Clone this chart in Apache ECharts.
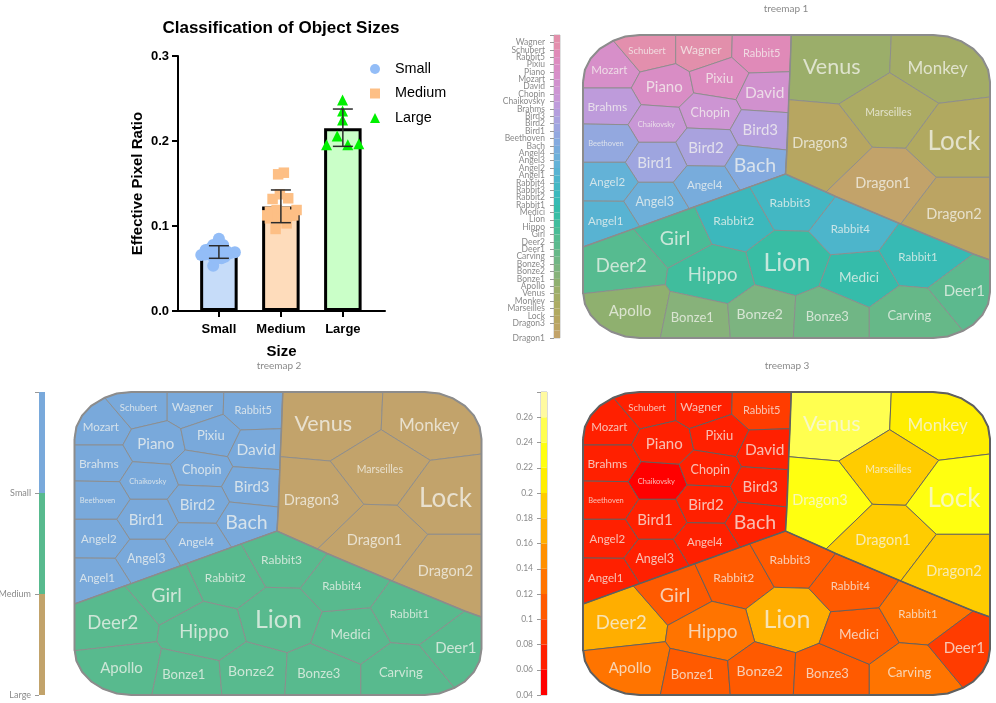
<!DOCTYPE html>
<html>
<head>
<meta charset="utf-8">
<style>html,body{margin:0;padding:0;background:#fff}#c{width:996px;height:703px}</style>
<script src="https://cdn.jsdelivr.net/npm/echarts@6/dist/echarts.min.js"></script>
</head>
<body>
<div id="c"></div>
<script>
// ---------- bar chart data ----------
const sizeCategories = ['Small', 'Medium', 'Large'];
const barMeans = [0.069, 0.123, 0.215];
const errLow = [0.0620, 0.1039, 0.1937];
const errHigh = [0.0768, 0.1424, 0.2376];
const smallPoints = [[1,.085],[.908,.0776],[1.069,.0776],[.785,.0718],[.715,.0659],[.839,.0698],[.946,.0678],[1.097,.0639],[1.258,.069],[1.177,.0678],[.908,.0533],[1.043,.062],[.86,.0735],[.97,.073],[1.03,.0715],[.9,.0645],[1.12,.0705],[.78,.0665],[.96,.0615]];
const mediumPoints = [[2.048,.1627],[1.956,.1608],[1.866,.1318],[2.118,.1326],[1.984,.1373],[1.823,.1168],[1.931,.1188],[2.065,.1168],[2.253,.1188],[1.823,.109],[1.984,.109],[2.092,.1031],[1.915,.0965],[1.9,.113],[2.02,.113],[2.15,.112],[2.2,.1125],[1.78,.1125]];
const largePoints = [[2.995,.2482],[2.995,.2353],[2.995,.2247],[2.909,.2059],[2.737,.1957],[3.08,.1957],[3.258,.1968]];

// ---------- treemap data (map units, like a small region map) ----------
const legendNames = ['Wagner','Schubert','Rabbit5','Pixiu','Piano','Mozart','David','Chopin','Chaikovsky','Brahms','Bird3','Bird2','Bird1','Beethoven','Bach','Angel4','Angel3','Angel2','Angel1','Rabbit4','Rabbit3','Rabbit2','Rabbit1','Medici','Lion','Hippo','Girl','Deer2','Deer1','Carving','Bonze3','Bonze2','Bonze1','Apollo','Venus','Monkey','Marseilles','Lock','Dragon3','Dragon2','Dragon1'];
const nameColors = ['#e28fab','#e38fad','#e08ab8','#dd8cc0','#d98dc5','#d78fc9','#d191ce','#cd95d3','#c897d6','#be9bdb','#b49edd','#a9a2de','#9ea5df','#93a8df','#84aadf','#78acdc','#6dafd9','#63b2d7','#58b3d2','#4db5cb','#43b7c3','#3cb8bc','#37bab4','#35bcaa','#38bda4','#40bd9d','#49bc96','#56bb90','#5cb98e','#66b888','#70b685','#7cb480','#87b27a','#8fb06f','#9bae6a','#a3ac66','#acab63','#b1a960','#b7a661','#bba463','#c2a36a'];
const groupNames = ['Small','Medium','Large'];
const groupColors = ['#79a9db','#58ba8e','#c2a36b'];
const heatTicks = [0.04,0.06,0.08,0.10,0.12,0.14,0.16,0.18,0.20,0.22,0.24,0.26,0.28];
const heatColors = ['#ff0000','#ff2000','#ff3c00','#ff5a00','#ff7400','#ff9000','#ffae00','#ffcc00','#ffee00','#ffff10','#ffff50','#fffaa0'];
const cellValues = {Wagner:.07,Schubert:.07,Rabbit5:.09,Pixiu:.07,Piano:.07,Mozart:.07,David:.07,Chopin:.07,Chaikovsky:.05,Brahms:.07,Bird3:.07,Bird2:.07,Bird1:.07,Beethoven:.07,Bach:.07,Angel4:.07,Angel3:.07,Angel2:.07,Angel1:.07,
  Rabbit4:.11,Rabbit3:.11,Rabbit2:.11,Rabbit1:.13,Medici:.11,Lion:.16,Hippo:.13,Girl:.11,Deer2:.16,Deer1:.09,Carving:.13,Bonze3:.11,Bonze2:.11,Bonze1:.11,Apollo:.13,
  Venus:.248,Monkey:.206,Marseilles:.196,Lock:.225,Dragon3:.235,Dragon2:.197,Dragon1:.196};
const cellGroups = {Small:legendNames.slice(0,19),Medium:legendNames.slice(19,34),Large:legendNames.slice(34)};

const vertices = {
 O:[0,53],a1:[0,47],a2:[1.9,34.8],a3:[7.6,23.5],a4:[16.7,13.8],A:[30.3,5.7],a5:[42.2,1.6],a6:[57,0],B:[92.7,0],C:[92.7,28.7],D:[57,37],
 E:[149.3,0],F:[148.7,22.3],G:[106.3,36.7],H:[166,38],I:[207,36.7],J:[110.7,58],K:[153,64.7],L:[96,72.3],M:[58,69.7],N:[48.3,53],
 P:[45,89.7],Q:[0,89],R:[104,93],S:[92.7,107.3],T:[55.7,107.3],U:[147,94.7],V:[158.3,74.7],W:[205.4,77.7],X:[155,110],Y:[204,115],
 Z:[104,130.7],AA:[141.7,131.3],apex:[202.5,139],top:[208.3,0],bb:[42.3,127.3],ll:[0,127.3],cc:[90.3,147.3],dd:[55.3,147.3],ee:[40.7,166.3],mm:[0,166],
 d0:[0,212],d1:[50.3,193.9],d2:[56.7,191.6],d3:[106.3,173.7],d4:[111.7,171.7],d5:[157,155.4],d6:[166.7,151.9],
 d7:[243,157],d8:[252.7,161.5],d9:[316,188.3],d10:[317.7,189],d11:[390.3,219],d12:[407,225],
 gd:[84.7,233.3],hd:[82.3,249.7],dl:[0,258.7],gr:[129,209.3],rr:[191.3,195.3],rl:[162.7,217],r34:[225.7,196.3],lm:[247.7,219.7],lmb:[236,251.3],lb:[212.7,260.7],hl:[171.7,249.7],hb:[144.7,268.7],hab:[87,256.3],
 b1:[77.3,303],b2:[147.3,303],b3:[210.3,303],b4:[286.3,303],mbc:[286.3,272.3],r4m:[296,215.7],mrc:[316.3,250.7],rcd:[344.7,253],
 c1:[57,303],c2:[42.2,301.4],c3:[28.5,296.8],c4:[16.7,289.5],c5:[7.6,280],c6:[1.9,268.9],c7:[0,257],
 e1:[350,303],e2:[364.8,301.4],e3:[380,295.8],e4:[390.3,289.5],e5:[399.4,280],e6:[405.1,268.9],e7:[407,257],
 t1:[308.3,0],vmm:[306.7,37.7],vdm:[255.7,69],vd:[205.7,64.7],f1:[350,0],f2:[364.8,1.6],f3:[378.5,6.3],f4:[390.3,13.8],f5:[399.4,23.5],f6:[405.1,34.8],f7:[407,47],f8:[407,62],
 mlm:[355.7,68.3],ml:[322.7,113.3],md:[289.3,112.3],dr:[353.3,142.3],rt:[407,142.3]
};
const cellOutlines = {
 Mozart:'O a1 a2 a3 a4 A D N',Schubert:'A a5 a6 B C D',Wagner:'B E F G C',Rabbit5:'E top I H F',Piano:'D C G J L M N',Pixiu:'G F H K J',David:'H I W V K',
 Brahms:'O N M P Q',Chaikovsky:'M L R S T P',Chopin:'J K V U R L',Bird3:'V W Y X U',Beethoven:'Q P T bb ll',Bird2:'R U X AA Z S',Bird1:'T S Z cc dd bb',Bach:'X Y apex d5 AA',
 Angel2:'ll bb dd ee mm',Angel3:'dd cc d3 d2 ee',Angel4:'Z AA d5 d3 cc',Angel1:'mm ee d2 d0',
 Deer2:'d0 d1 gd hd dl',Girl:'d1 d4 gr gd',Rabbit2:'d4 d6 rr rl gr',Rabbit3:'d6 apex d8 r34 rr',Lion:'rr r34 lm lmb lb hl rl',Hippo:'gd gr rl hl hb hab hd',
 Apollo:'dl hd hab b1 c1 c2 c3 c4 c5 c6 c7',Bonze1:'hab hb b2 b1',Bonze2:'hb hl lb b3 b2',Bonze3:'lb lmb mbc b4 b3',Medici:'lm r4m mrc mbc lmb',Rabbit4:'r34 d8 d9 r4m lm',Rabbit1:'d9 d10 d11 rcd mrc r4m',
 Carving:'mbc mrc rcd e3 e2 e1 b4',Deer1:'d11 d12 e7 e6 e5 e4 e3 rcd',
 Venus:'top t1 vmm vdm vd',Monkey:'t1 f1 f2 f3 f4 f5 f6 f7 f8 mlm vmm',Marseilles:'vmm mlm ml md vdm',Dragon3:'vd vdm md d7 apex',Dragon1:'md ml dr d10 d9 d8 d7',Lock:'mlm f8 rt dr ml',Dragon2:'dr rt d12 d11 d10'
};
const outerLine = 'a1 a2 a3 a4 A a5 a6 B E top t1 f1 f2 f3 f4 f5 f6 f7 f8 rt d12 e7 e6 e5 e4 e3 e2 e1 b4 b3 b2 b1 c1 c2 c3 c4 c5 c6 c7 dl d0 mm ll Q O a1';
const groupLines = ['d0 d1 d2 d3 d4 d5 d6 apex d7 d8 d9 d10 d11 d12','top I vd W Y apex'];
const labelSpots = {Schubert:[64,15.7],Wagner:[118,15.3],Rabbit5:[178.7,18],Mozart:[26.3,35],Piano:[81.3,52],Pixiu:[136.3,44.3],David:[181.7,57.7],Brahms:[24.3,72],Chaikovsky:[73.3,89.3],Chopin:[127.3,77.7],Bird3:[177.3,94.7],Beethoven:[23,109],Bird2:[123,112.7],Bird1:[72,128],Bach:[172,130.7],Angel2:[24.3,147.3],Angel3:[71.7,167],Angel4:[121.7,150],Angel1:[22.7,186],Girl:[92,203.3],Rabbit2:[150.7,186],Deer2:[38.3,230.7],Hippo:[129.7,240.3],Apollo:[47,275.7],Bonze1:[109.3,283.3],Bonze2:[176.7,279],Lion:[204,228],Rabbit3:[207,168],Rabbit4:[267.3,194],Rabbit1:[335,222.7],Medici:[276,242.7],Bonze3:[244.3,281.7],Carving:[326.3,281.3],Deer1:[381.3,256.3],Dragon2:[371,179.3],Dragon1:[300,148.7],Dragon3:[237,108.3],Lock:[371,106.3],Marseilles:[305.3,77.3],Venus:[248.7,31.7],Monkey:[354.7,33.3]};
const labelSizes = {Schubert:9.5,Wagner:12,Rabbit5:11,Mozart:11.5,Piano:15,Pixiu:13,David:15.5,Brahms:12,Chaikovsky:7.5,Chopin:12.5,Bird3:15,Beethoven:7.5,Bird2:15,Bird1:15,Bach:19.5,Angel2:11.5,Angel3:12.5,Angel4:11.5,Angel1:11.5,Girl:19.5,Rabbit2:12,Deer2:18.5,Hippo:18.5,Apollo:15,Bonze1:13,Bonze2:14,Lion:25,Rabbit3:12,Rabbit4:11.5,Rabbit1:11.5,Medici:13.5,Bonze3:13,Carving:13,Deer1:15,Dragon2:14.5,Dragon1:14.5,Dragon3:14.5,Lock:26,Marseilles:10.5,Venus:21.5,Monkey:17};

// ---------- colour lookups ----------
function heatColor(v){ let i=0; while(i<heatColors.length-1 && v>=heatTicks[i+1]) i++; return heatColors[i]; }
function groupOf(n){ return groupNames.find(g=>cellGroups[g].includes(n)); }
const colorModes = [
  n=>nameColors[legendNames.indexOf(n)],
  n=>groupColors[groupNames.indexOf(groupOf(n))],
  n=>heatColor(cellValues[n])
];

const MAP_FONT = 'Lato';
const ARIAL = '"Liberation Sans"';
const mapBoxes = [[583,35],[74.5,392],[583,392]];
const strokes = ['#8c8c8c','#8c8c8c','#5f5f5f'];
const cellNames = Object.keys(cellOutlines);

const grids=[], xAxes=[], yAxes=[], series=[];
// grid 0: bar chart
grids.push({left:178,top:56,width:207,height:255,outerBoundsMode:'none'});
xAxes.push({gridIndex:0,type:'value',min:0.34,max:3.68,splitLine:{show:false},
  name:'Size',nameLocation:'middle',nameGap:33,nameTextStyle:{fontFamily:ARIAL,fontWeight:'bold',fontSize:15,color:'#000'},
  axisLine:{show:true,lineStyle:{color:'#000',width:2}},
  axisTick:{show:true,length:6,lineStyle:{color:'#000',width:2},customValues:[1,2,3]},
  axisLabel:{customValues:[1,2,3],formatter:v=>sizeCategories[Math.round(v)-1]||'',fontFamily:ARIAL,fontWeight:'bold',fontSize:13,color:'#000',margin:12}});
yAxes.push({gridIndex:0,type:'value',min:0,max:0.3,interval:0.1,splitLine:{show:false},
  name:'Effective Pixel Ratio',nameLocation:'middle',nameGap:33,nameRotate:90,nameTextStyle:{fontFamily:ARIAL,fontWeight:'bold',fontSize:15,color:'#000'},
  axisLine:{show:true,onZero:false,lineStyle:{color:'#000',width:2}},
  axisTick:{show:true,length:6,lineStyle:{color:'#000',width:2}},
  axisLabel:{formatter:v=>v.toFixed(1),fontFamily:ARIAL,fontWeight:'bold',fontSize:13,color:'#000',margin:9}});
const barFills=['#c6dcf9','#fedcbb','#caffc8'];
series.push({type:'bar',xAxisIndex:0,yAxisIndex:0,barWidth:37.5,z:2,animation:false,silent:true,
  data:barMeans.map((v,i)=>({value:[i+1,v],itemStyle:{color:barFills[i],borderColor:'#000',borderWidth:3}}))});
[['Small',smallPoints,'circle',12,'#93bdf7'],['Medium',mediumPoints,'rect',10.5,'#fdbf85'],['Large',largePoints,'triangle',11,'#00f000']].forEach(s=>{
  series.push({name:s[0],type:'scatter',xAxisIndex:0,yAxisIndex:0,data:s[1],symbol:s[2],symbolSize:s[3],z:3,animation:false,silent:true,
    itemStyle:{color:s[4],opacity:1}});
});
series.push({type:'custom',xAxisIndex:0,yAxisIndex:0,z:4,animation:false,silent:true,
  data:barMeans.map((v,i)=>[i+1,errLow[i],errHigh[i]]),
  encode:{x:0,y:[1,2]},
  renderItem:(p,api)=>{
    const lo=api.coord([api.value(0),api.value(1)]), hi=api.coord([api.value(0),api.value(2)]);
    const st={stroke:'#2b2b2b',lineWidth:1.5}, c=10;
    return {type:'group',children:[
      {type:'line',shape:{x1:lo[0],y1:lo[1],x2:hi[0],y2:hi[1]},style:st},
      {type:'line',shape:{x1:lo[0]-c,y1:lo[1],x2:lo[0]+c,y2:lo[1]},style:st},
      {type:'line',shape:{x1:hi[0]-c,y1:hi[1],x2:hi[0]+c,y2:hi[1]},style:st}]};
  }});

// grids 1-3: the three treemaps on hidden value axes
mapBoxes.forEach((b,k)=>{
  const gi=grids.length;
  grids.push({left:b[0],top:b[1],width:407,height:303,outerBoundsMode:'none'});
  xAxes.push({gridIndex:gi,type:'value',min:0,max:407,show:false});
  yAxes.push({gridIndex:gi,type:'value',min:0,max:303,inverse:true,show:false});
  const xy=names=>names.split(' ').map(id=>vertices[id]);
  series.push({type:'custom',xAxisIndex:gi,yAxisIndex:gi,animation:false,silent:true,clip:false,z:2,
    data:cellNames.map((n,i)=>[i]),
    renderItem:(p,api)=>{
      const n=cellNames[p.dataIndex];
      const pts=xy(cellOutlines[n]).map(v=>api.coord(v));
      const c=api.coord(labelSpots[n]);
      return {type:'group',children:[
        {type:'polygon',shape:{points:pts},style:{fill:colorModes[k](n),stroke:strokes[k],lineWidth:0.9}},
        {type:'text',z2:5,style:{x:c[0],y:c[1],text:n,align:'center',verticalAlign:'middle',fill:'rgba(245,245,240,0.74)',
          font:labelSizes[n]+'px '+MAP_FONT}}]};
    }});
  series.push({type:'custom',xAxisIndex:gi,yAxisIndex:gi,animation:false,silent:true,clip:false,z:3,
    data:[[0],[1],[2]],
    renderItem:(p,api)=>{
      const line=p.dataIndex===0?outerLine:groupLines[p.dataIndex-1];
      return {type:'polyline',shape:{points:xy(line).map(v=>api.coord(v))},
        style:{fill:'none',stroke:strokes[k],lineWidth:p.dataIndex===0?2:1.5}};
    }});
});

// grids 4-6: colour legends with real axes
function bandSeries(gi,bands){
  return {type:'custom',xAxisIndex:gi,yAxisIndex:gi,animation:false,silent:true,z:2,
    data:bands.map((b,i)=>[i]),
    renderItem:(p,api)=>{
      const b=bands[p.dataIndex];
      const a=api.coord([0,b[0]]), c=api.coord([1,b[1]]);
      return {type:'rect',shape:{x:a[0],y:Math.min(a[1],c[1]),width:c[0]-a[0],height:Math.abs(c[1]-a[1])},style:{fill:b[2]}};
    }};
}
function legendAxis(gi,opt,formatter){
  xAxes.push({gridIndex:gi,type:'value',min:0,max:1,show:false});
  yAxes.push(Object.assign({gridIndex:gi,type:'value',splitLine:{show:false},
    axisLine:{show:false},
    axisTick:{show:true,length:4,lineStyle:{color:'#999',width:1}},
    axisLabel:{formatter,fontFamily:MAP_FONT,fontSize:opt.fs,color:'#8a8a8a',margin:opt.m,hideOverlap:false,showMinLabel:true,showMaxLabel:true}},opt.axis));
}
let gi=grids.length;
grids.push({left:554,top:35,width:6,height:303,show:true,borderColor:'#c4c4c4',borderWidth:1,backgroundColor:'transparent',outerBoundsMode:'none'});
legendAxis(gi,{fs:8.5,m:9,axis:{min:0,max:41,interval:1,inverse:true}},v=>legendNames[Math.round(v)-1]||'');
series.push(bandSeries(gi,legendNames.map((n,i)=>[i,i+1,nameColors[i]])));
gi=grids.length;
grids.push({left:39,top:392,width:6,height:303,outerBoundsMode:'none'});
legendAxis(gi,{fs:9,m:8,axis:{min:0,max:3,interval:1,inverse:true}},v=>groupNames[Math.round(v)-1]||'');
series.push(bandSeries(gi,groupNames.map((n,i)=>[i,i+1,groupColors[i]])));
gi=grids.length;
grids.push({left:541,top:392,width:6,height:303,show:true,borderColor:'#b8b8b8',borderWidth:1,backgroundColor:'transparent',outerBoundsMode:'none'});
legendAxis(gi,{fs:8.5,m:8,axis:{min:0.04,max:0.28,interval:0.02}},v=>v>0.27?'':String(+v.toFixed(2)));
series.push(bandSeries(gi,heatColors.map((c,i)=>[heatTicks[i],heatTicks[i+1],c])));

const chart=echarts.init(document.getElementById('c'),null,{renderer:'canvas'});
const tm=(text,x,y)=>({text,left:x,top:y,textAlign:'center',textStyle:{fontFamily:MAP_FONT,fontSize:10,fontWeight:'normal',color:'#8a8a8a'},padding:0});
chart.setOption({
  backgroundColor:'#fff',animation:false,
  title:[
    {text:'Classification of Object Sizes',left:281,top:20,textAlign:'center',padding:0,textStyle:{fontFamily:ARIAL,fontWeight:'bold',fontSize:17,color:'#000'}},
    tm('treemap 1',786,4),tm('treemap 2',279,361),tm('treemap 3',787,361)
  ],
  legend:{data:['Small','Medium','Large'],orient:'vertical',left:370,top:62,itemWidth:10,itemHeight:10,itemGap:10.5,padding:0,
    textStyle:{fontFamily:ARIAL,fontSize:14.4,color:'#000',padding:[0,0,0,10]},selectedMode:false},
  grid:grids,xAxis:xAxes,yAxis:yAxes,series
});
</script>
</body>
</html>
